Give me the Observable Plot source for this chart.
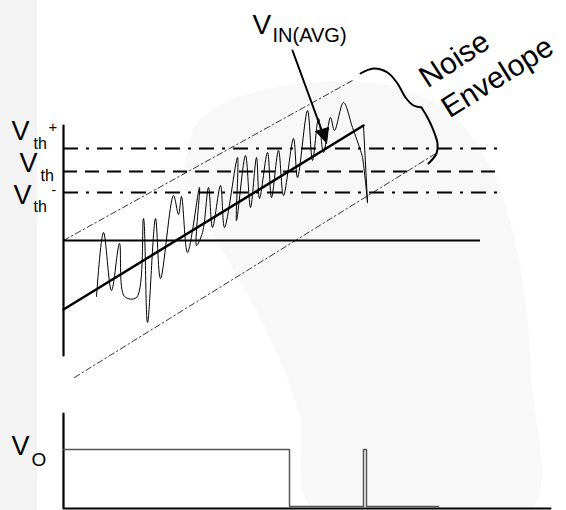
<!DOCTYPE html>
<html>
<head>
<meta charset="utf-8">
<script src="https://cdn.jsdelivr.net/npm/d3@7"></script>
<script src="https://cdn.jsdelivr.net/npm/@observablehq/plot@0.6"></script>
<style>
  html, body { margin: 0; padding: 0; background: #fff; }
  #chart svg { display: block; }
</style>
</head>
<body>
<div id="chart"></div>
<script>
// Diagram units: t = horizontal (time), v = vertical (screen-down voltage units)
const thresholdLevels = [148, 171, 192];        // Vth+, Vth, Vth-
const thresholdSpan = [63, 502];
const baselineLevel = 240;
const baselineSpan = [63, 480];
const topAxis = [[63, 125], [63, 355]];
const avgLine = [[63, 309], [363, 125]];
const avgDrop = [[363, 125], [367, 202]];
const upperEnvelope = [[63, 240], [352, 80]];
const lowerEnvelope = [[74, 377], [437, 152]];
const noise = [
  [96, 296], [103, 232], [111, 290], [119, 243], [124, 296], [136, 297],
  [143, 218], [147, 322], [155, 218], [160, 278], [173, 195], [178, 214],
  [181, 196], [187, 252], [199, 187], [196, 245], [202, 232], [208, 187],
  [212, 227], [220, 185], [224, 227], [237, 157], [236, 220], [245, 155],
  [250, 207], [256, 157], [259, 198], [267, 152], [271, 197], [278, 150],
  [283, 195], [293, 138], [297, 177], [307, 110], [312, 160], [318, 118],
  [323, 152], [330, 117], [334, 130], [343, 102], [352, 127], [360, 150],
  [362, 157], [367, 202]
];
const arrowShaft = [[292, 50], [322, 132]];
const arrowHead = [[326, 143], [328, 127], [315, 131]];
const braceUpper = [[360, 73], [373, 68], [387, 72], [397, 83], [405, 97], [413, 105], [421, 107]];
const braceLower = [[421, 107], [427, 117], [433, 130], [437, 143], [436, 153], [428, 163]];
const bottomAxis = [[63, 413], [63, 508], [550, 508]];
const output = [
  [63, 449], [289, 449], [289, 506], [363, 506], [363, 449],
  [366, 449], [366, 506], [438, 506]
];
const sideStrip = [{x1: 0, x2: 37, y1: 0, y2: 510}];
const watermark = [
  [183, 178], [195, 125], [225, 102], [270, 88], [320, 81], [370, 82], [420, 95],
  [465, 128], [500, 190], [522, 280], [531, 380], [530, 510],
  [313, 510], [298, 410], [262, 322], [222, 250], [183, 178]
];

const labels = [
  {x: 11, y: 139, text: "V", size: 27},
  {x: 33, y: 148, text: "th", size: 16},
  {x: 48, y: 131, text: "+", size: 15},
  {x: 19, y: 171, text: "V", size: 27},
  {x: 40, y: 180, text: "th", size: 16},
  {x: 13, y: 203, text: "V", size: 27},
  {x: 33, y: 211, text: "th", size: 16},
  {x: 51, y: 194, text: "-", size: 14}
];
const subLabels = [
  {x: 252, y: 33, text: "V", size: 28},
  {x: 272, y: 41, text: "IN(AVG)", size: 20},
  {x: 11, y: 454, text: "V", size: 27},
  {x: 31, y: 465, text: "O", size: 19}
];
const rotatedLabels = [
  {x: 427, y: 88, text: "Noise", angle: -33},
  {x: 449, y: 118, text: "Envelope", angle: -32}
];

const chart = Plot.plot({
  width: 566,
  height: 510,
  margin: 0,
  x: {domain: [0, 566], range: [0, 566], axis: null},
  y: {domain: [0, 510], range: [0, 510], axis: null},
  style: {fontFamily: "Liberation Sans, Arial, sans-serif", background: "#fff"},
  marks: [
    Plot.rect(sideStrip, {x1: "x1", x2: "x2", y1: "y1", y2: "y2", fill: "#f3f3f3"}),
    Plot.line(watermark, {x: d => d[0], y: d => d[1], fill: "#f8f8f8", stroke: "none", curve: "catmull-rom"}),
    // threshold lines
    Plot.ruleY([thresholdLevels[0]], {x1: thresholdSpan[0], x2: thresholdSpan[1], stroke: "#000", strokeWidth: 2, strokeDasharray: "15,8,3,8"}),
    Plot.ruleY([thresholdLevels[1]], {x1: thresholdSpan[0], x2: thresholdSpan[1], stroke: "#000", strokeWidth: 2, strokeDasharray: "14,8"}),
    Plot.ruleY([thresholdLevels[2]], {x1: thresholdSpan[0], x2: thresholdSpan[1], stroke: "#000", strokeWidth: 2, strokeDasharray: "15,8,3,8"}),
    Plot.ruleY([baselineLevel], {x1: baselineSpan[0], x2: baselineSpan[1], stroke: "#000", strokeWidth: 2}),
    Plot.line(topAxis, {x: d => d[0], y: d => d[1], stroke: "#000", strokeWidth: 2.2}),
    // envelopes
    Plot.line(upperEnvelope, {x: d => d[0], y: d => d[1], stroke: "#000", strokeWidth: 0.8, strokeDasharray: "6,3,1.5,3"}),
    Plot.line(lowerEnvelope, {x: d => d[0], y: d => d[1], stroke: "#000", strokeWidth: 0.8, strokeDasharray: "6,3,1.5,3"}),
    // noise signal
    Plot.line(noise, {x: d => d[0], y: d => d[1], stroke: "#000", strokeWidth: 1, curve: "catmull-rom"}),
    Plot.line(avgDrop, {x: d => d[0], y: d => d[1], stroke: "#000", strokeWidth: 1}),
    Plot.line(avgLine, {x: d => d[0], y: d => d[1], stroke: "#000", strokeWidth: 2.5}),
    // arrow
    Plot.line(arrowShaft, {x: d => d[0], y: d => d[1], stroke: "#000", strokeWidth: 2}),
    Plot.line(arrowHead, {x: d => d[0], y: d => d[1], stroke: "#000", fill: "#000", strokeWidth: 1}),
    // brace
    Plot.line(braceUpper, {x: d => d[0], y: d => d[1], stroke: "#000", strokeWidth: 2, curve: "catmull-rom"}),
    Plot.line(braceLower, {x: d => d[0], y: d => d[1], stroke: "#000", strokeWidth: 2, curve: "catmull-rom"}),
    // bottom plot
    Plot.line(bottomAxis, {x: d => d[0], y: d => d[1], stroke: "#000", strokeWidth: 2.2}),
    Plot.line(output, {x: d => d[0], y: d => d[1], stroke: "#555", strokeWidth: 1.5}),
    // labels
    Plot.text(labels, {x: "x", y: "y", text: "text", fontSize: d => d.size, textAnchor: "start", lineAnchor: "bottom", fill: "#000"}),
    Plot.text(subLabels, {x: "x", y: "y", text: "text", fontSize: d => d.size, textAnchor: "start", lineAnchor: "bottom", fill: "#000"}),
    Plot.text(rotatedLabels, {x: "x", y: "y", text: "text", rotate: "angle", fontSize: 30, textAnchor: "start", lineAnchor: "bottom", fill: "#000"})
  ]
});
document.getElementById("chart").appendChild(chart);
</script>
</body>
</html>
